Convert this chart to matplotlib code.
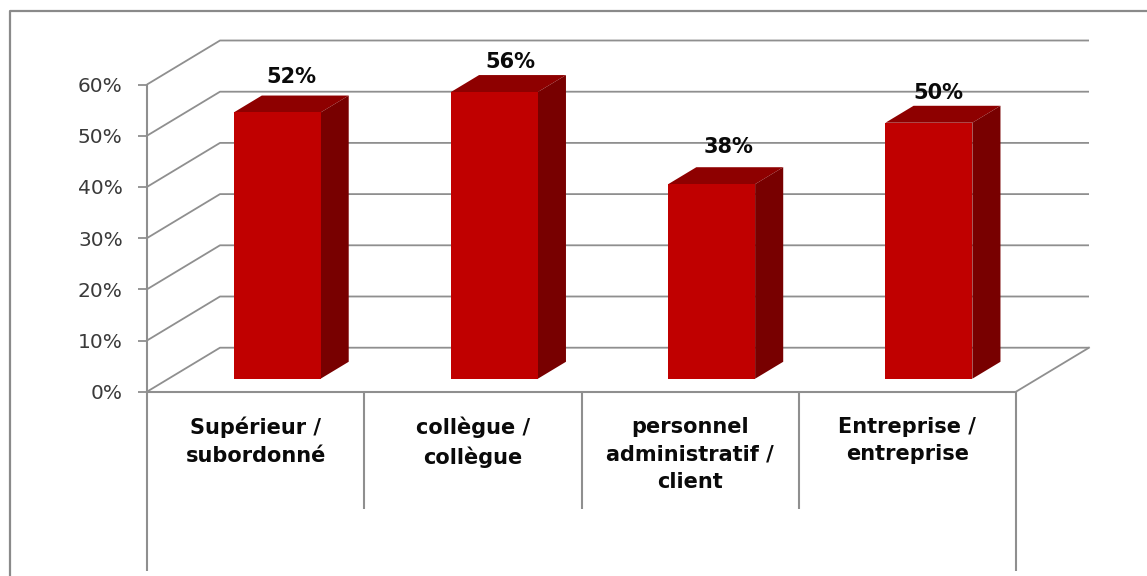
import matplotlib
matplotlib.use("Agg")
import matplotlib.pyplot as plt
from matplotlib.lines import Line2D

categories = ["Supérieur /\nsubordonné", "collègue /\ncollègue",
              "personnel\nadministratif /\nclient", "Entreprise /\nentreprise"]
values = [52, 56, 38, 50]
y_ticks = [0, 10, 20, 30, 40, 50, 60]
y_tick_labels = ["0%", "10%", "20%", "30%", "40%", "50%", "60%"]

W, H = 1147, 576
GRAY = "#8f8f8f"
FRONT, TOP, SIDE = "#c00000", "#8e0000", "#780000"

fig = plt.figure(figsize=(W / 100, H / 100), dpi=100, facecolor="white")
L, R, Y0, Y60 = 147, 1016, 391.7, 84.5
ax = fig.add_axes([L / W, (H - Y0) / H, (R - L) / W, (Y0 - Y60) / H])
ax.set_xlim(0, 4)
ax.set_ylim(0, 60)
ax.patch.set_visible(False)

# oblique depth of the chart box, in data units
DX = 73 / ((R - L) / 4)
DY = 44 / ((Y0 - Y60) / 60)
NEAR, FAR = 0.295, 0.68
BAR_W = 0.40

# walls: gridlines run along the left side wall and the back wall
for t in y_ticks:
    ax.plot([0, DX, 4 + DX], [t, t + DY, t + DY], color=GRAY, lw=1.3,
            clip_on=False, zorder=1, solid_capstyle="butt")
ax.plot([4, 4 + DX], [0, DY], color=GRAY, lw=1.3, clip_on=False, zorder=1)

# 3D bars
xs = [i + 0.5 for i in range(len(values))]
for x, v in zip(xs, values):
    x0 = x - BAR_W / 2 + NEAR * DX
    x1 = x + BAR_W / 2 + NEAR * DX
    b = NEAR * DY
    sx = (FAR - NEAR) * DX
    sy = (FAR - NEAR) * DY
    ax.fill([x0, x1, x1 + sx, x0 + sx], [b + v, b + v, b + v + sy, b + v + sy],
            color=TOP, lw=0, zorder=3, clip_on=False)
    ax.fill([x1, x1 + sx, x1 + sx, x1], [b, b + sy, b + v + sy, b + v],
            color=SIDE, lw=0, zorder=3, clip_on=False)
    ax.bar(x0 + BAR_W / 2, v, BAR_W, bottom=b, color=FRONT, lw=0, zorder=4, clip_on=False)

# data labels
label_off = [(14.5, -35), (16, -30), (17, -37), (9, -30)]
for x, v, (ox, oy) in zip(xs, values, label_off):
    ax.annotate(f"{v}%", xy=(x + NEAR * DX, v + NEAR * DY), xytext=(ox * 0.72, -oy * 0.72),
                textcoords="offset points", ha="center", va="center",
                fontsize=15, fontweight="bold", color="#0a0a0a", zorder=5,
                annotation_clip=False)

# axes, ticks, category dividers
for s in ("top", "right"):
    ax.spines[s].set_visible(False)
for s in ("left", "bottom"):
    ax.spines[s].set_color(GRAY)
    ax.spines[s].set_linewidth(1.5)
ax.set_yticks(y_ticks)
ax.set_yticklabels(y_tick_labels, fontsize=14.5, color="#3a3a3a")
ax.tick_params(axis="y", length=6.5, width=1.3, color=GRAY, pad=11)
ax.set_xticks(xs)
ax.set_xticklabels(categories, fontsize=15, fontweight="bold", color="#0a0a0a",
                   linespacing=1.47, va="top")
ax.tick_params(axis="x", length=0, pad=18)
for i in range(len(values) + 1):
    low = -35 if i in (0, len(values)) else -22.9
    ax.plot([i, i], [0, low], color=GRAY, lw=1.5, clip_on=False, zorder=1,
            solid_capstyle="butt")

# outer frame: left and top edges only
fig.add_artist(Line2D([9.5 / W, 9.5 / W, 1], [0, 1 - 11 / H, 1 - 11 / H],
                      transform=fig.transFigure, color="#8a8a8a", lw=1.6))

fig.savefig("out.png", dpi=100, facecolor="white")
